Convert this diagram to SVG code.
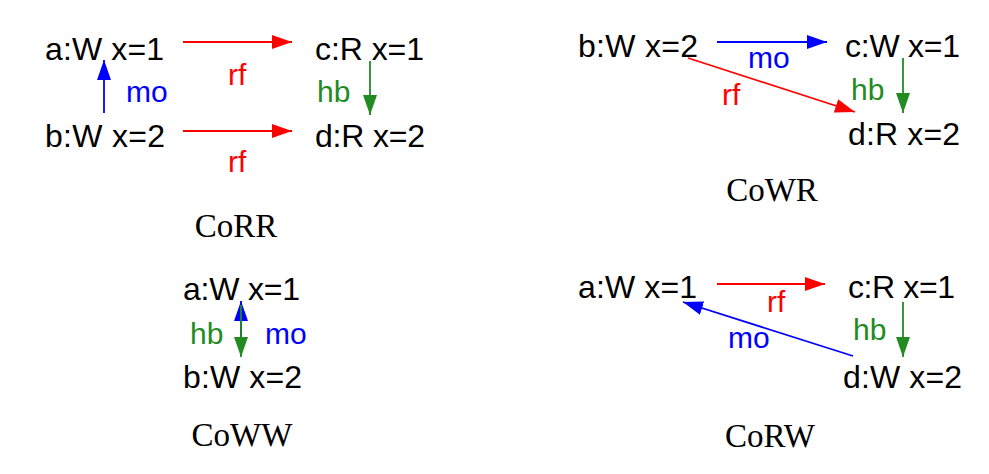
<svg xmlns="http://www.w3.org/2000/svg" width="989" height="474" viewBox="0 0 989 474">
<style>
.n{font-family:"Liberation Sans","DejaVu Sans",sans-serif;font-size:32px;fill:#000}
.l{font-family:"Liberation Sans","DejaVu Sans",sans-serif;font-size:30px}
.cap{font-family:"Liberation Serif","DejaVu Serif",serif;font-size:33px;fill:#000;text-anchor:middle}
.r{stroke:#ff0000;fill:none;stroke-width:1.8}
.b{stroke:#0000ff;fill:none;stroke-width:1.8}
.g{stroke:#228b22;fill:none;stroke-width:1.8}
.tr{fill:#ff0000}.tb{fill:#0000ff}.tg{fill:#228b22}
</style>
<defs>
<marker id="ar" markerUnits="userSpaceOnUse" markerWidth="20" markerHeight="14" refX="20" refY="7" orient="auto"><path d="M0,0 L20,7 L0,14 z" fill="#ff0000"/></marker>
<marker id="ab" markerUnits="userSpaceOnUse" markerWidth="20" markerHeight="14" refX="20" refY="7" orient="auto"><path d="M0,0 L20,7 L0,14 z" fill="#0000ff"/></marker>
<marker id="ag" markerUnits="userSpaceOnUse" markerWidth="20" markerHeight="14" refX="20" refY="7" orient="auto"><path d="M0,0 L20,7 L0,14 z" fill="#228b22"/></marker>
</defs>
<rect width="989" height="474" fill="#fff"/>

<!-- CoRR -->
<g id="corr-a"><text class="n" x="45" y="60" textLength="119">a:W x=1</text></g>
<g id="corr-c"><text class="n" x="315" y="60" textLength="109">c:R x=1</text></g>
<g id="corr-b"><text class="n" x="45" y="147" textLength="120">b:W x=2</text></g>
<g id="corr-d"><text class="n" x="315" y="147" textLength="110">d:R x=2</text></g>
<g id="corr-caption"><text class="cap" x="236" y="237">CoRR</text></g>

<!-- CoWR -->
<g id="cowr-b"><text class="n" x="578" y="57" textLength="120">b:W x=2</text></g>
<g id="cowr-c"><text class="n" x="845" y="57" textLength="115">c:W x=1</text></g>
<g id="cowr-d"><text class="n" x="848" y="145" textLength="112">d:R x=2</text></g>
<g id="cowr-caption"><text class="cap" x="772" y="201">CoWR</text></g>

<!-- CoWW -->
<g id="coww-a"><text class="n" x="183" y="300" textLength="117">a:W x=1</text></g>
<g id="coww-b"><text class="n" x="183" y="388" textLength="119">b:W x=2</text></g>
<g id="coww-caption"><text class="cap" x="242" y="446">CoWW</text></g>

<!-- CoRW -->
<g id="corw-a"><text class="n" x="578" y="298" textLength="119">a:W x=1</text></g>
<g id="corw-c"><text class="n" x="848" y="298" textLength="107">c:R x=1</text></g>
<g id="corw-d"><text class="n" x="843" y="388" textLength="119">d:W x=2</text></g>
<g id="corw-caption"><text class="cap" x="770" y="447">CoRW</text></g>

<g id="connectors">
<!-- CoRR -->
<line class="r" x1="183" y1="42" x2="292" y2="42" marker-end="url(#ar)"/>
<text class="l tr" x="228" y="85">rf</text>
<line class="r" x1="183" y1="131" x2="292" y2="131" marker-end="url(#ar)"/>
<text class="l tr" x="228" y="172">rf</text>
<line class="b" x1="104" y1="113" x2="104" y2="60" marker-end="url(#ab)"/>
<text class="l tb" x="126" y="102">mo</text>
<line class="g" x1="370" y1="61" x2="370" y2="115" marker-end="url(#ag)"/>
<text class="l tg" x="317" y="102">hb</text>

<!-- CoWR -->
<line class="b" x1="717" y1="42" x2="827" y2="42" marker-end="url(#ab)"/>
<text class="l tb" x="748" y="68">mo</text>
<line class="r" x1="688" y1="58" x2="855" y2="112" marker-end="url(#ar)"/>
<text class="l tr" x="722" y="105">rf</text>
<line class="g" x1="903" y1="58" x2="903" y2="113" marker-end="url(#ag)"/>
<text class="l tg" x="851" y="100">hb</text>

<!-- CoWW -->
<line class="b" x1="241" y1="355" x2="241" y2="301" marker-end="url(#ab)"/>
<line class="g" x1="241" y1="305" x2="241" y2="357" marker-end="url(#ag)"/>
<text class="l tg" x="190" y="344">hb</text>
<text class="l tb" x="265" y="344">mo</text>

<!-- CoRW -->
<line class="r" x1="717" y1="284" x2="825" y2="284" marker-end="url(#ar)"/>
<text class="l tr" x="767" y="312">rf</text>
<line class="b" x1="853" y1="356" x2="683" y2="302" marker-end="url(#ab)"/>
<text class="l tb" x="728" y="348">mo</text>
<line class="g" x1="903" y1="302" x2="903" y2="357" marker-end="url(#ag)"/>
<text class="l tg" x="853" y="340">hb</text>
</g>
</svg>
